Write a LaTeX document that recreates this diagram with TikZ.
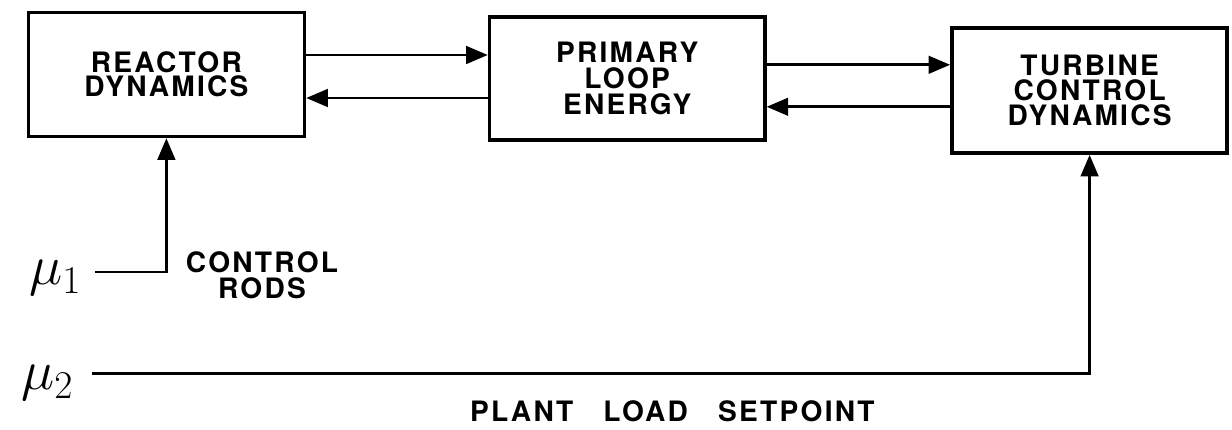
\documentclass[tikz,border=0pt]{standalone}
\usepackage{fix-cm}
\usepackage{fontspec}
\newfontfamily\lettering{TeX Gyre Heros}[LetterSpace=8]
\usetikzlibrary{arrows.meta, positioning}

\tikzset{
  block/.style={draw, line width=2.6pt, inner sep=0pt, align=center,
    minimum width=6.9cm, minimum height=3.1cm,
    font=\fontsize{20}{17.8}\selectfont\lettering\bfseries},
  flow/.style={line width=2pt, -{Triangle[length=0.54cm, width=0.44cm]}},
  caption/.style={align=center, font=\fontsize{20}{18}\selectfont\lettering\bfseries},
  inlabel/.style={font=\fontsize{40}{40}\selectfont}
}

\begin{document}
\begin{tikzpicture}

\useasboundingbox (0,0) rectangle (30.8,-10.75);

% ============================================================
% Blocks
% ============================================================
\node[block, font=\fontsize{20}{16.8}\selectfont\lettering\bfseries]
  (reactor) at (4.16,-1.86) {REACTOR\\DYNAMICS};
\node[block, minimum width=6.88cm, minimum height=3.08cm,
  font=\fontsize{20}{18.4}\selectfont\lettering\bfseries]
  (primary) at (15.68,-1.96) {PRIMARY\\LOOP\\ENERGY};
\node[block, minimum width=6.88cm, minimum height=3.13cm]
  (turbine) at (27.24,-2.26) {TURBINE\\CONTROL\\DYNAMICS};

% ============================================================
% Couplings between blocks
% ============================================================
\draw[flow] (reactor.east |- 0,-1.375) -- (primary.west |- 0,-1.375);
\draw[flow] (primary.west |- 0,-2.45)  -- (reactor.east |- 0,-2.45);
\draw[flow] (primary.east |- 0,-1.62)  -- (turbine.west |- 0,-1.62);
\draw[flow] (turbine.west |- 0,-2.67)  -- (primary.east |- 0,-2.67);

% ============================================================
% Inputs
% ============================================================
\coordinate (mu1in) at (2.38,-6.8);
\coordinate (mu2in) at (2.3,-9.33);

\node[inlabel] (mu1) at (1.38,-6.95) {$\mu_{1}$};
\node[inlabel] (mu2) at (1.18,-9.58) {$\mu_{2}$};

% control rods into reactor
\draw[flow] (mu1in) -| (reactor.south);
\node[caption] (rods) at (6.55,-6.88) {CONTROL\\RODS};

% load setpoint into turbine
\draw[flow] (mu2in) -| (turbine.south);
\node[caption] (setpoint) at (16.81,-10.28) {PLANT\ \ \ LOAD\ \ \ SETPOINT};

\end{tikzpicture}
\end{document}
